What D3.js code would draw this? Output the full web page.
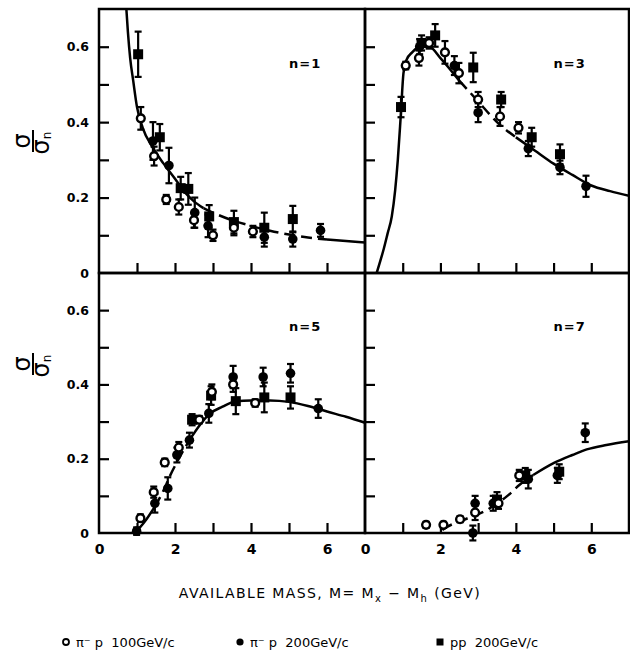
<!DOCTYPE html>
<html><head><meta charset="utf-8">
<script src="https://cdn.jsdelivr.net/npm/d3@7"></script>
<style>body{margin:0;background:#fff}svg{display:block}</style>
</head><body><svg id="c" width="630" height="665"></svg>
<script>
// ---------- data ----------
const panelLabels = ["n=1", "n=3", "n=5", "n=7"];
const xTickLabels = [0, 2, 4, 6];
const yTickLabels = [0, 0.2, 0.4, 0.6];
const xMinorTicks = [1, 2, 3, 4, 5, 6];
const yMinorTicks = [0.1, 0.2, 0.3, 0.4, 0.5, 0.6];
const seriesNames = ["π⁻ p  100GeV/c", "π⁻ p  200GeV/c", "pp  200GeV/c"];

// fitted curves [M, sigma_n/sigma]
const curveN1 = [[0.72,0.70],[0.76,0.64],[0.82,0.57],[0.9,0.51],[1.0,0.44],[1.15,0.385],[1.4,0.335],[1.7,0.29],[2.0,0.25],[2.25,0.215],[2.5,0.19],[2.75,0.172],[3.0,0.16],[3.5,0.14],[4.0,0.125],[4.5,0.112],[5.0,0.102],[5.5,0.094],[6.0,0.089],[6.5,0.085],[7.0,0.081]];
const curveN3 = [[0.31,0],[0.4,0.03],[0.5,0.065],[0.6,0.105],[0.71,0.15],[0.8,0.22],[0.87,0.30],[0.95,0.42],[1.02,0.53],[1.1,0.565],[1.25,0.585],[1.45,0.60],[1.7,0.60],[2.0,0.57],[2.5,0.51],[3.0,0.455],[3.5,0.40],[4.0,0.36],[4.5,0.325],[5.0,0.29],[5.5,0.26],[6.0,0.232],[6.5,0.217],[7.0,0.205]];
const curveN5 = [[0.95,0],[1.2,0.03],[1.47,0.071],[1.7,0.115],[1.86,0.152],[2.1,0.2],[2.38,0.25],[2.65,0.29],[2.9,0.32],[3.25,0.34],[3.6,0.355],[4.0,0.357],[4.5,0.357],[5.0,0.353],[5.5,0.342],[6.0,0.327],[6.5,0.313],[7.0,0.297]];
const curveN7 = [[2.05,0.008],[2.12,0.013],[2.61,0.035],[3.23,0.062],[3.8,0.102],[4.1,0.13],[4.46,0.156],[5.0,0.188],[5.5,0.21],[5.88,0.225],[6.4,0.237],[7.0,0.247]];

// data points [M, value, error]
const openN1 = [[1.1,0.41,0.03],[1.45,0.31,0.025],[1.77,0.195,0.012],[2.1,0.175,0.02],[2.5,0.14,0.02],[3.0,0.10,0.015],[3.55,0.12,0.02],[4.05,0.11,0.015]];
const filledN1 = [[1.42,0.35,0.05],[1.84,0.285,0.047],[2.52,0.16,0.04],[2.87,0.125,0.03],[4.35,0.095,0.025],[5.1,0.09,0.02],[5.83,0.113,0.017]];
const squareN1 = [[1.03,0.58,0.06],[1.6,0.36,0.035],[2.15,0.225,0.03],[2.35,0.223,0.042],[2.9,0.15,0.03],[3.55,0.135,0.03],[4.35,0.12,0.04],[5.1,0.143,0.035]];

const openN3 = [[1.08,0.55,0.01],[1.43,0.57,0.02],[1.7,0.61,0.015],[2.12,0.585,0.03],[2.49,0.53,0.027],[3.0,0.46,0.02],[3.58,0.415,0.025],[4.07,0.385,0.015]];
const filledN3 = [[1.45,0.60,0.02],[2.37,0.55,0.025],[3.0,0.425,0.025],[4.33,0.33,0.02],[5.17,0.28,0.018],[5.86,0.23,0.028]];
const squareN3 = [[0.955,0.44,0.027],[1.5,0.61,0.02],[1.86,0.63,0.03],[2.87,0.545,0.039],[3.61,0.46,0.02],[4.42,0.36,0.025],[5.17,0.315,0.026]];

const openN5 = [[1.09,0.04,0.01],[1.44,0.11,0.015],[1.73,0.19,0.01],[2.1,0.23,0.015],[2.64,0.305,0.01],[2.97,0.38,0.02],[3.53,0.40,0.02],[4.11,0.35,0.01]];
const filledN5 = [[0.99,0.005,0.01],[1.47,0.08,0.025],[1.81,0.12,0.03],[2.05,0.21,0.02],[2.38,0.25,0.02],[2.89,0.322,0.025],[3.53,0.42,0.03],[4.32,0.42,0.025],[5.04,0.43,0.025],[5.77,0.335,0.025]];
const squareN5 = [[2.45,0.305,0.015],[2.95,0.37,0.025],[3.6,0.355,0.035],[4.35,0.365,0.04],[5.04,0.365,0.03]];

const openN7 = [[1.62,0.022,0.008],[2.08,0.022,0.008],[2.52,0.037,0.008],[2.92,0.055,0.02],[3.54,0.08,0.015],[4.09,0.155,0.015]];
const filledN7 = [[2.86,0.0,0.02],[2.92,0.08,0.02],[3.4,0.08,0.02],[4.33,0.145,0.025],[5.1,0.155,0.02],[5.84,0.27,0.025]];
const squareN7 = [[3.5,0.09,0.02],[4.25,0.155,0.02],[5.15,0.165,0.02]];

// ---------- layout / style ----------
const FONT = "'DejaVu Sans', sans-serif";
const cols = [[99, 365], [365, 629]];
const rows = [[9, 273], [273, 533]];
const panels = [
  {label: panelLabels[0], col: 0, row: 0, curve: curveN1, open: openN1, filled: filledN1, square: squareN1, dash: [2.75, 6.0]},
  {label: panelLabels[1], col: 1, row: 0, curve: curveN3, open: openN3, filled: filledN3, square: squareN3, dash: [2.5, 4.0]},
  {label: panelLabels[2], col: 0, row: 1, curve: curveN5, open: openN5, filled: filledN5, square: squareN5, dash: [1.47, 2.38]},
  {label: panelLabels[3], col: 1, row: 1, curve: curveN7, open: openN7, filled: filledN7, square: squareN7, dash: [2.05, 4.46]}
];

const svg = d3.select("#c");
svg.append("rect").attr("width", 630).attr("height", 665).attr("fill", "#fff");
const defs = svg.append("defs");

panels.forEach((p, i) => {
  const [x0, x1] = cols[p.col];
  const [y0, y1] = rows[p.row];
  const x = d3.scaleLinear().domain([0, 7]).range([x0, x1]);
  const y = d3.scaleLinear().domain([0, 0.7]).range([y1, y0]);
  const g = svg.append("g");

  defs.append("clipPath").attr("id", "clip" + i)
    .append("rect").attr("x", x0).attr("y", y0).attr("width", x1 - x0).attr("height", y1 - y0);

  // inward ticks
  const ya = g.append("g").attr("transform", `translate(${x0},0)`)
    .call(d3.axisRight(y).tickValues(yMinorTicks).tickSize(10).tickFormat(""));
  ya.select(".domain").remove();
  ya.selectAll("line").attr("stroke", "#000").attr("stroke-width", 2.2);
  const xa = g.append("g").attr("transform", `translate(0,${y1})`)
    .call(d3.axisTop(x).tickValues(xMinorTicks).tickSize(10).tickFormat(""));
  xa.select(".domain").remove();
  xa.selectAll("line").attr("stroke", "#000").attr("stroke-width", 2.2);

  // tick labels
  if (p.col === 0) {
    const yl = g.append("g").attr("transform", `translate(${x0},0)`)
      .call(d3.axisLeft(y).tickValues(yTickLabels).tickSize(0).tickPadding(10)
        .tickFormat(d => d === 0 ? "0" : d3.format(".1f")(d)));
    yl.select(".domain").remove();
    yl.selectAll("text").attr("font-family", FONT).attr("font-weight", "bold").attr("font-size", 12.5).attr("fill", "#000");
  }
  if (p.row === 1) {
    const xl = g.append("g").attr("transform", `translate(0,${y1})`)
      .call(d3.axisBottom(x).tickValues(xTickLabels).tickSize(0).tickPadding(11).tickFormat(d3.format("d")));
    xl.select(".domain").remove();
    xl.selectAll("text").attr("font-family", FONT).attr("font-weight", "bold").attr("font-size", 14).attr("fill", "#000");
  }

  // curve split into solid / dashed parts
  const line = d3.line().x(d => x(d[0])).y(d => y(d[1])).curve(d3.curveMonotoneX);
  const [da, db] = p.dash;
  const parts = [
    {pts: p.curve.filter(d => d[0] <= da), dashed: false},
    {pts: p.curve.filter(d => d[0] >= da && d[0] <= db), dashed: true},
    {pts: p.curve.filter(d => d[0] >= db), dashed: false}
  ];
  const cg = g.append("g").attr("clip-path", `url(#clip${i})`);
  parts.forEach(pt => {
    if (pt.pts.length < 2) return;
    cg.append("path").datum(pt.pts).attr("d", line)
      .attr("fill", "none").attr("stroke", "#000").attr("stroke-width", 2.5)
      .attr("stroke-dasharray", pt.dashed ? "11,6" : null);
  });

  // error bars
  const allPts = [...p.open, ...p.filled, ...p.square];
  const eg = g.append("g").attr("stroke", "#000").attr("stroke-width", 2.2);
  allPts.forEach(d => {
    eg.append("line").attr("x1", x(d[0])).attr("x2", x(d[0])).attr("y1", y(d[1] - d[2])).attr("y2", y(d[1] + d[2]));
    [d[1] - d[2], d[1] + d[2]].forEach(v => {
      eg.append("line").attr("x1", x(d[0]) - 3.5).attr("x2", x(d[0]) + 3.5).attr("y1", y(v)).attr("y2", y(v));
    });
  });

  // markers
  g.append("g").selectAll("rect").data(p.square).join("rect")
    .attr("x", d => x(d[0]) - 5).attr("y", d => y(d[1]) - 5)
    .attr("width", 10).attr("height", 10).attr("fill", "#000");
  g.append("g").selectAll("circle").data(p.filled).join("circle")
    .attr("cx", d => x(d[0])).attr("cy", d => y(d[1])).attr("r", 4.8).attr("fill", "#000");
  g.append("g").selectAll("circle").data(p.open).join("circle")
    .attr("cx", d => x(d[0])).attr("cy", d => y(d[1])).attr("r", 3.9)
    .attr("fill", "#fff").attr("stroke", "#000").attr("stroke-width", 2.4);

  // panel label
  g.append("text").attr("x", x(5.0)).attr("y", y(0.6) + 21)
    .attr("font-family", FONT).attr("font-weight", "bold").attr("font-size", 13)
    .attr("letter-spacing", 1).text(p.label);

  // border
  g.append("rect").attr("x", x0).attr("y", y0).attr("width", x1 - x0).attr("height", y1 - y0)
    .attr("fill", "none").attr("stroke", "#000").attr("stroke-width", 2.5);
});

// y-axis titles (rotated fraction)
[141, 364].forEach(cy => {
  const t = svg.append("g").attr("transform", `translate(33,${cy}) rotate(-90)`);
  t.append("text").attr("x", 0).attr("y", -3).attr("text-anchor", "middle")
    .attr("font-family", "'DejaVu Sans', sans-serif").attr("font-size", 24).text("σ");
  t.append("line").attr("x1", -11).attr("x2", 11).attr("y1", 0).attr("y2", 0)
    .attr("stroke", "#000").attr("stroke-width", 2);
  const tt = t.append("text").attr("x", -2).attr("y", 16).attr("text-anchor", "middle")
    .attr("font-family", "'DejaVu Sans', sans-serif").attr("font-size", 24);
  tt.append("tspan").text("σ");
  tt.append("tspan").attr("font-size", 12).attr("dy", 2).text("n");
});

// x-axis title
const xt = svg.append("text").attr("x", 330).attr("y", 598).attr("text-anchor", "middle")
  .attr("font-family", FONT).attr("font-size", 14).attr("letter-spacing", 1.4);
xt.append("tspan").text("AVAILABLE  MASS,  M= M");
xt.append("tspan").attr("font-size", 10).attr("dy", 4).text("x");
xt.append("tspan").attr("dy", -4).text(" − M");
xt.append("tspan").attr("font-size", 10).attr("dy", 4).text("h");
xt.append("tspan").attr("dy", -4).text(" (GeV)");

// legend
const lg = svg.append("g").attr("font-family", FONT).attr("font-size", 13);
const legX = [66, 240, 440];
legX.forEach((lx, i) => {
  if (i === 0) lg.append("circle").attr("cx", lx).attr("cy", 642).attr("r", 3).attr("fill", "#fff").attr("stroke", "#000").attr("stroke-width", 1.8);
  if (i === 1) lg.append("circle").attr("cx", lx).attr("cy", 642).attr("r", 3.6).attr("fill", "#000");
  if (i === 2) lg.append("rect").attr("x", lx - 3.5).attr("y", 638.5).attr("width", 7).attr("height", 7).attr("fill", "#000");
  lg.append("text").attr("x", lx + 10).attr("y", 647).attr("xml:space", "preserve").text(seriesNames[i]);
});
</script></body></html>
